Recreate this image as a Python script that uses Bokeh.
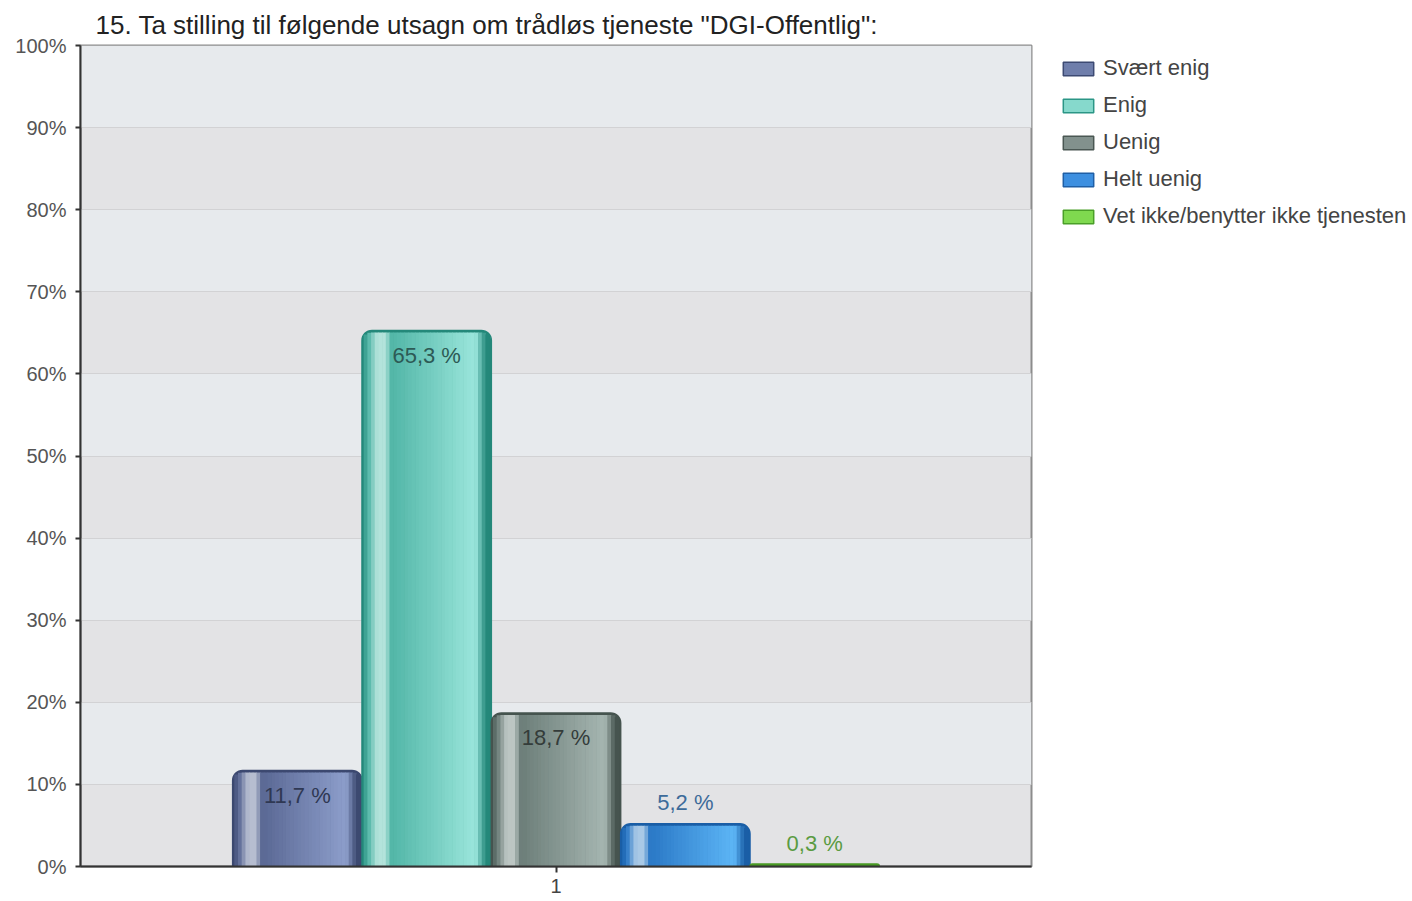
from bokeh.plotting import figure
from bokeh.layouts import row
from bokeh.models import (FactorRange, Range1d, FixedTicker, Legend, LegendItem,
                          ColumnDataSource)
from bokeh.transform import dodge
from bokeh.core.properties import value
from bokeh.embed import file_html
from bokeh.resources import INLINE

# ---------------- data ----------------
chart_title = '15. Ta stilling til følgende utsagn om trådløs tjeneste "DGI-Offentlig":'
question = ["1"]
series = ["Svært enig", "Enig", "Uenig", "Helt uenig", "Vet ikke/benytter ikke tjenesten"]
values = [11.7, 65.3, 18.7, 5.2, 0.3]
value_labels = ["11,7 %", "65,3 %", "18,7 %", "5,2 %", "0,3 %"]
y_ticks = [0, 10, 20, 30, 40, 50, 60, 70, 80, 90, 100]
y_tick_labels = ["0%", "10%", "20%", "30%", "40%", "50%", "60%", "70%", "80%", "90%", "100%"]

# ---------------- style ----------------
FONT = "Liberation Sans"
LEFT, TOP, RIGHT, BOTTOM = 80, 45, 2, 35
FRAME_W, FRAME_H = 951, 821
TOTAL_W, TOTAL_H = 1412, 901
LEG_W = TOTAL_W - (LEFT + FRAME_W + RIGHT)
BW = 0.136  # bar width in category units

# (edge, mid, highlight, light)
shades = [
    ("#3c4970", "#5a6894", "#b6bdd0", "#8d9ecb"),
    ("#24887a", "#52b6a7", "#b3e3db", "#9be6dc"),
    ("#46544f", "#6c7e79", "#bcc6c3", "#a6b6b1"),
    ("#1a5ea6", "#2a78c6", "#a9c9e6", "#5db6f6"),
    ("#4a9a25", "#6cc440", "#c4eab0", "#96e070"),
]
legend_fill = ["#6f7eab", "#86d9cc", "#82918d", "#3d8fe0", "#7fd94f"]
legend_line = ["#3d4a73", "#2b9686", "#4a5753", "#1f5fa6", "#4a9f28"]
label_colors = ["#2f3853", "#2d5a55", "#343c3a", "#3d6b9a", "#5a9b42"]


def hex2rgb(h):
    h = h.lstrip("#")
    return tuple(int(h[i:i + 2], 16) for i in (0, 2, 4))


def mix(a, b, t):
    ra, rb = hex2rgb(a), hex2rgb(b)
    return "#%02x%02x%02x" % tuple(int(round(x + (y - x) * t)) for x, y in zip(ra, rb))


def profile(t, sh):
    e, m, hl, l = sh
    stops = [(0.0, e), (0.05, m), (0.12, hl), (0.18, hl), (0.23, m), (0.88, l), (0.96, e), (1.0, e)]
    for (t0, c0), (t1, c1) in zip(stops[:-1], stops[1:]):
        if t0 <= t <= t1:
            return mix(c0, c1, (t - t0) / (t1 - t0) if t1 > t0 else 0)
    return e


p = figure(frame_width=FRAME_W, frame_height=FRAME_H,
           x_range=FactorRange(factors=question, range_padding=0),
           y_range=Range1d(0, 100),
           output_backend="svg", toolbar_location=None,
           min_border_left=LEFT, min_border_right=RIGHT,
           min_border_top=TOP, min_border_bottom=BOTTOM)

p.title.text = chart_title
p.title.text_font = FONT
p.title.text_font_size = "26px"
p.title.text_font_style = "normal"
p.title.text_color = "#222222"
p.title.align = "left"
p.title.offset = 15
p.title.standoff = 11

p.background_fill_color = "#e3e3e5"
p.border_fill_color = "white"
p.outline_line_color = "#8c8c8c"
p.outline_line_width = 2

p.ygrid.ticker = FixedTicker(ticks=y_ticks)
p.ygrid.grid_line_color = "#d2d2d4"
p.ygrid.band_fill_color = "#e7eaed"
p.ygrid.band_fill_alpha = 1.0
p.xgrid.grid_line_color = "#cfd2d6"

p.yaxis.ticker = FixedTicker(ticks=y_ticks)
p.yaxis.major_label_overrides = {t: s for t, s in zip(y_ticks, y_tick_labels)}
p.yaxis.axis_line_color = "#333333"
p.yaxis.axis_line_width = 2
p.yaxis.major_tick_line_color = "#333333"
p.yaxis.major_tick_line_width = 2
p.yaxis.major_tick_out = 5
p.yaxis.major_tick_in = 0
p.yaxis.minor_tick_line_color = None
p.yaxis.major_label_standoff = 9
p.yaxis.major_label_text_font = FONT
p.yaxis.major_label_text_font_size = "20px"
p.yaxis.major_label_text_color = "#555555"

p.xaxis.axis_line_color = "#333333"
p.xaxis.axis_line_width = 2
p.xaxis.major_tick_line_color = "#333333"
p.xaxis.major_tick_line_width = 2
p.xaxis.major_tick_out = 6
p.xaxis.major_tick_in = 0
p.xaxis.major_label_standoff = 6
p.xaxis.major_label_text_font = FONT
p.xaxis.major_label_text_font_size = "20px"
p.xaxis.major_label_text_color = "#444444"

px_y = 100.0 / FRAME_H          # data units per pixel (vertical)
bar_px = BW * FRAME_W           # bar width in pixels
RADIUS = 10
N = 34

# legend panel as a separate, axis-less figure on the right
pl = figure(width=LEG_W, height=TOTAL_H, x_range=Range1d(0, 1), y_range=Range1d(0, 1),
            x_axis_location=None, y_axis_location=None,
            output_backend="svg", toolbar_location=None, min_border=0)
pl.outline_line_color = None
pl.xgrid.visible = False
pl.ygrid.visible = False
pl.background_fill_color = "white"
pl.border_fill_color = "white"

legend_items = []
for i, name in enumerate(series):
    off = (i - (len(series) - 1) / 2) * BW
    src = ColumnDataSource(dict(x=question, top=[values[i]], label=[value_labels[i]]))
    sh = shades[i]
    # base bar (outline + top cap)
    p.vbar(x=dodge("x", off, range=p.x_range), top="top", width=BW, source=src,
           fill_color=sh[0], line_color=sh[0], line_width=1.5,
           border_radius=(RADIUS, RADIUS, 0, 0))
    # cylinder shading stripes
    for j in range(N):
        tc = 0.015 + (j + 0.5) * (0.97 / N)
        d = min(tc, 1 - tc) * bar_px
        drop = 2.0
        if d < RADIUS:
            drop += RADIUS - (RADIUS ** 2 - (RADIUS - d) ** 2) ** 0.5
        top_s = values[i] - drop * px_y
        if top_s <= 0:
            continue
        sx = off - BW / 2 + tc * BW
        p.vbar(x=dodge("x", sx, range=p.x_range), top=top_s, width=BW * 0.97 / N * 1.15,
               source=src, fill_color=profile(tc, sh), line_color=None)
    # value label
    inside = values[i] >= 10
    p.text(x=dodge("x", off, range=p.x_range), y="top", text="label", source=src,
           text_align="center", text_baseline="middle",
           y_offset=25 if inside else -21,
           text_font=value(FONT), text_font_size="22px", text_color=label_colors[i])
    # legend swatch renderer (not drawn, only used for the legend glyph)
    g = pl.vbar(x=0, top=0, width=0.1,
                fill_color=legend_fill[i], line_color=legend_line[i], line_width=1.5,
                border_radius=3, visible=False)
    legend_items.append(LegendItem(label=name, renderers=[g]))

legend = Legend(items=legend_items, location=(26, 637),
                glyph_width=38, glyph_height=17, label_height=22, spacing=11,
                label_standoff=6, label_text_font=FONT, label_text_font_size="22px",
                label_text_color="#444444", border_line_color=None,
                background_fill_alpha=0, padding=0, margin=0)
pl.add_layout(legend, "center")

layout = row(p, pl, spacing=0)
open("out.html", "w").write(file_html(layout, INLINE))
